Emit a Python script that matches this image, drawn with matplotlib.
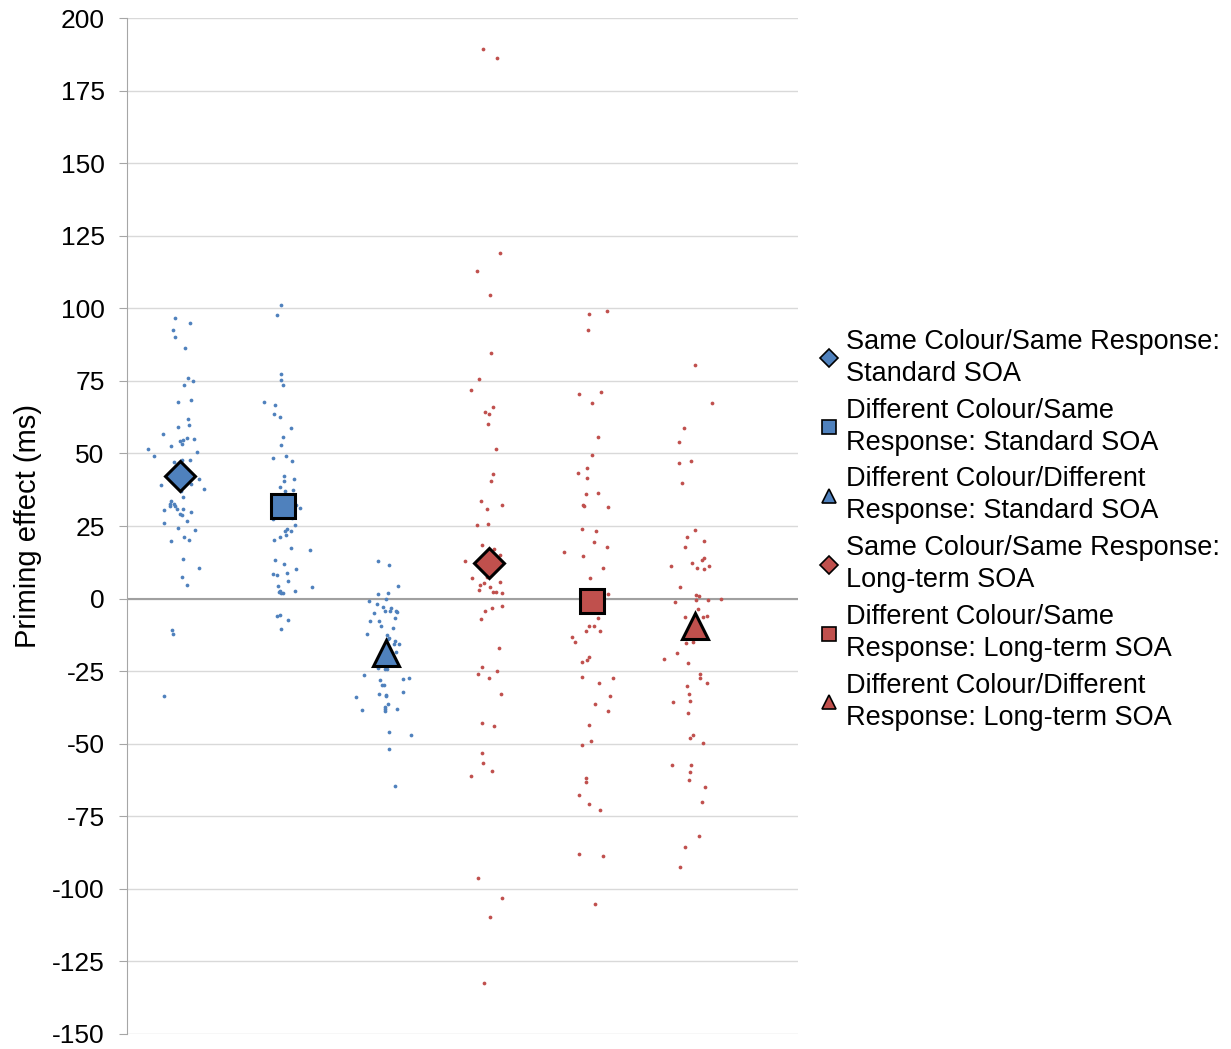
import matplotlib
matplotlib.use('Agg')
import matplotlib.pyplot as plt
import numpy as np

plt.rcParams['font.family'] = ['Liberation Sans', 'DejaVu Sans']
plt.rcParams['axes.unicode_minus'] = False

labels = [
    'Same Colour/Same Response:\nStandard SOA',
    'Different Colour/Same\nResponse: Standard SOA',
    'Different Colour/Different\nResponse: Standard SOA',
    'Same Colour/Same Response:\nLong-term SOA',
    'Different Colour/Same\nResponse: Long-term SOA',
    'Different Colour/Different\nResponse: Long-term SOA',
]
means = [42.3, 32.0, -18.6, 12.3, -0.9, -9.6]

# individual participants: jitter (category units) and priming effect (ms)
jit1 = [-0.046, 0.097, -0.068, -0.046, 0.051, 0.075, 0.129, 0.042, 0.107, -0.013, 0.075, 0.087, -0.013,
        -0.168, 0.065, 0.139, 0.0, 0.032, 0.019, -0.090, -0.311, 0.165, -0.255, -0.055, 0.022, 0.097,
        0.184, -0.178, 0.107, 0.230, 0.010, 0.032, -0.081, -0.097, -0.055, -0.100, -0.051, -0.155,
        -0.032, 0.032, 0.110, -0.003, 0.019, 0.065, -0.155, -0.022, 0.152, 0.042, 0.087, -0.090,
        0.032, 0.184, 0.019, 0.065, -0.078, -0.068, -0.155]
val1 = [96.8, 94.8, 92.5, 90.1, 86.2, 76.1, 74.9, 73.7, 68.3, 67.8, 62.0, 59.7, 59.2,
        56.6, 55.4, 55.0, 54.2, 54.5, 53.4, 52.6, 51.5, 50.4, 49.1, 47.0, 47.6, 47.6,
        41.3, 39.0, 39.4, 37.9, 37.1, 35.1, 33.5, 32.6, 32.5, 31.8, 31.9, 30.5,
        30.8, 30.8, 29.7, 29.2, 28.8, 26.8, 26.1, 24.2, 23.7, 21.3, 20.3, 19.8,
        13.6, 10.5, 7.4, 4.7, -10.9, -12.2, -33.7]

jit2 = [-0.022, -0.058, -0.022, -0.013, 0.0, -0.187, -0.078, -0.087, -0.032, 0.078, 0.0, -0.022,
        -0.100, 0.032, 0.087, 0.010, 0.010, 0.110, -0.032, 0.022, 0.100, 0.133, 0.165, -0.100,
        0.087, 0.120, 0.036, 0.022, 0.075, -0.032, 0.032, -0.087, 0.078, 0.262, -0.078, 0.010,
        0.133, -0.100, -0.055, 0.042, 0.055, -0.045, 0.285, -0.032, -0.036, -0.013, 0.0, 0.120,
        -0.055, -0.032, 0.055, -0.022]
val2 = [101.0, 97.6, 77.3, 75.3, 73.7, 67.8, 66.7, 63.6, 62.5, 58.9, 55.8, 53.0,
        48.4, 49.1, 47.3, 42.2, 40.6, 41.3, 38.5, 37.2, 37.5, 32.3, 31.2, 27.4,
        27.7, 25.4, 23.9, 23.3, 23.3, 21.1, 21.8, 20.2, 17.5, 16.7, 13.2, 12.0,
        10.1, 8.6, 8.1, 8.9, 6.2, 4.2, 3.9, 2.7, 2.2, 1.9, 1.9, 2.7,
        -6.0, -5.6, -7.5, -10.6]

jit3 = [-0.078, 0.032, 0.120, 0.022, -0.078, 0.0, -0.165, -0.087, -0.023, 0.055, -0.010, 0.045,
        0.100, 0.110, -0.110, 0.087, -0.155, -0.065, -0.042, 0.068, -0.187, 0.013, 0.022, 0.036,
        0.078, 0.090, 0.133, 0.100, -0.075, -0.010, 0.013, -0.207, -0.055, 0.165, 0.230, -0.032,
        -0.019, -0.065, 0.0, 0.0, 0.165, -0.294, 0.022, -0.010, -0.010, -0.010, 0.110, -0.230,
        0.036, 0.243, 0.036, 0.087]
val3 = [12.8, 11.7, 4.3, 1.9, 1.5, 0.0, -0.8, -2.0, -2.8, -3.2, -4.4, -4.4,
        -4.3, -4.7, -5.1, -6.7, -7.8, -7.8, -9.4, -10.2, -12.1, -12.5, -14.0, -13.7,
        -15.5, -14.7, -15.6, -18.4, -23.9, -24.3, -24.3, -26.2, -28.1, -27.7, -27.2, -29.8,
        -29.8, -32.9, -33.3, -33.7, -32.1, -34.0, -36.3, -37.4, -38.1, -38.8, -37.9, -38.4,
        -45.8, -46.9, -51.7, -64.4]

jit4 = [-0.052, 0.078, 0.110, -0.119, 0.010, 0.022, -0.097, -0.175, 0.046, -0.032, 0.0, -0.010,
        0.068, 0.046, 0.022, -0.078, 0.133, -0.019, -0.119, -0.010, -0.065, 0.055, 0.110, -0.230,
        -0.165, -0.019, 0.110, -0.087, -0.042, 0.013, -0.097, 0.046, 0.068, 0.133, 0.036, 0.133,
        -0.032, -0.078, 0.100, -0.065, -0.107, 0.078, 0.0, 0.123, -0.065, 0.055, -0.065, -0.052,
        0.036, -0.175, -0.107, 0.133, 0.013, -0.042]
val4 = [189.3, 186.2, 119.1, 112.8, 104.6, 84.7, 75.6, 71.8, 65.9, 64.4, 63.6, 60.1,
        51.5, 42.9, 40.5, 33.5, 32.3, 30.8, 25.4, 25.8, 18.4, 17.2, 15.1, 12.8,
        7.0, 7.3, 5.8, 4.7, 5.4, 3.9, 3.1, 2.3, 2.3, 1.9, -3.1, -2.4,
        -4.4, -7.1, -16.9, -23.6, -25.9, -25.0, -27.4, -32.9, -43.0, -43.8, -53.2, -56.6,
        -59.4, -61.0, -96.1, -103.1, -109.8, -132.4]

jit5 = [0.146, -0.029, -0.039, -0.120, 0.090, 0.003, 0.058, 0.0, -0.042, -0.129, -0.042, -0.052,
        0.058, -0.087, -0.075, 0.155, -0.097, 0.046, 0.026, 0.146, -0.272, -0.087, 0.114, -0.019,
        0.155, 0.058, -0.029, 0.026, -0.052, 0.078, -0.196, -0.161, -0.029, -0.042, -0.097, -0.097,
        0.068, 0.210, 0.178, 0.036, 0.155, -0.029, -0.010, -0.097, -0.052, -0.052, -0.120, -0.029,
        0.078, -0.120, 0.114, 0.036]
val5 = [99.1, 97.9, 92.5, 70.6, 71.1, 67.5, 55.8, 49.5, 44.9, 43.3, 41.6, 35.9,
        36.3, 32.3, 31.9, 31.6, 24.1, 23.4, 19.5, 17.9, 15.9, 14.8, 10.5, 7.0,
        1.5, -6.7, -9.3, -9.3, -11.1, -11.1, -13.2, -14.9, -20.0, -21.2, -21.9, -27.0,
        -29.0, -27.4, -33.7, -36.4, -38.7, -43.4, -48.9, -50.5, -61.7, -63.1, -67.7, -70.6,
        -72.7, -88.0, -88.8, -105.2]

jit6 = [0.0, 0.165, -0.107, -0.152, -0.152, -0.032, -0.119, 0.0, -0.078, 0.087, -0.097, 0.090,
        0.068, -0.022, -0.230, 0.143, 0.022, 0.090, -0.143, 0.010, 0.046, 0.010, 0.255, 0.133,
        -0.187, 0.032, -0.097, 0.078, 0.123, -0.087, -0.019, -0.175, -0.294, -0.065, 0.055, 0.055,
        0.123, -0.078, -0.055, -0.207, -0.046, -0.065, -0.019, -0.042, 0.078, -0.216, -0.032, -0.042,
        -0.055, 0.100, 0.068, 0.046, -0.097, -0.143]
val6 = [80.4, 67.5, 58.9, 53.8, 46.8, 47.5, 39.8, 23.7, 21.3, 19.8, 17.9, 14.0,
        13.2, 12.4, 11.2, 11.2, 10.5, 10.1, 3.9, 1.1, 0.8, -0.5, 0.0, -0.5,
        -1.3, -3.6, -6.3, -6.3, -5.9, -15.4, -14.9, -18.7, -20.8, -22.3, -25.9, -27.5,
        -29.0, -30.1, -32.9, -35.6, -35.2, -39.5, -46.9, -48.0, -49.6, -57.4, -57.4, -59.8,
        -62.6, -64.9, -70.0, -81.7, -85.6, -92.6]

jits = [jit1, jit2, jit3, jit4, jit5, jit6]
vals = [val1, val2, val3, val4, val5, val6]

blue = '#4F81BD'
red = '#C0504D'
colors = [blue, blue, blue, red, red, red]
markers = ['D', 's', '^', 'D', 's', '^']
msizes = [15, 17, 19, 15, 17, 19]

fig = plt.figure(figsize=(12.31, 10.49), dpi=100)
ax = fig.add_axes([0.103, 0.0143, 0.545, 0.9685])

for i in range(6):
    x = np.array(jits[i]) + i + 1
    ax.plot(x, vals[i], 'o', ms=2.7, color=colors[i], mec='none', zorder=2)

handles = []
for i in range(6):
    ax.plot(i + 1, means[i], markers[i], ms=msizes[i], color=colors[i],
            mec='black', mew=2.2, zorder=4)
    h, = plt.plot([], [], markers[i], ms=10 if markers[i] != 'D' else 9,
                  color=colors[i], mec='black', mew=1.2)
    handles.append(h)

ax.set_xlim(0.485, 7.0)
ax.set_ylim(-150, 200)
ax.set_yticks(np.arange(-150, 201, 25))
ax.set_xticks([])
ax.grid(axis='y', color='#D9D9D9', lw=1.0)
ax.set_axisbelow(True)
ax.axhline(0, color='#A0A0A0', lw=1.5, zorder=1)
for s in ['top', 'right', 'bottom']:
    ax.spines[s].set_visible(False)
ax.spines['left'].set_color('#A6A6A6')
ax.tick_params(axis='y', labelsize=19, length=6, color='#A6A6A6', pad=10)
ax.set_ylabel('Priming effect (ms)', fontsize=21, labelpad=7)

leg = fig.legend(handles, labels, loc='upper left', bbox_to_anchor=(0.655, 0.6995),
                 frameon=False, fontsize=19.5, handlelength=0.7, handletextpad=0.25,
                 labelspacing=0.4, borderpad=0)
for t in leg.get_texts():
    t.set_linespacing(1.3)

fig.savefig('out.png', dpi=100)
